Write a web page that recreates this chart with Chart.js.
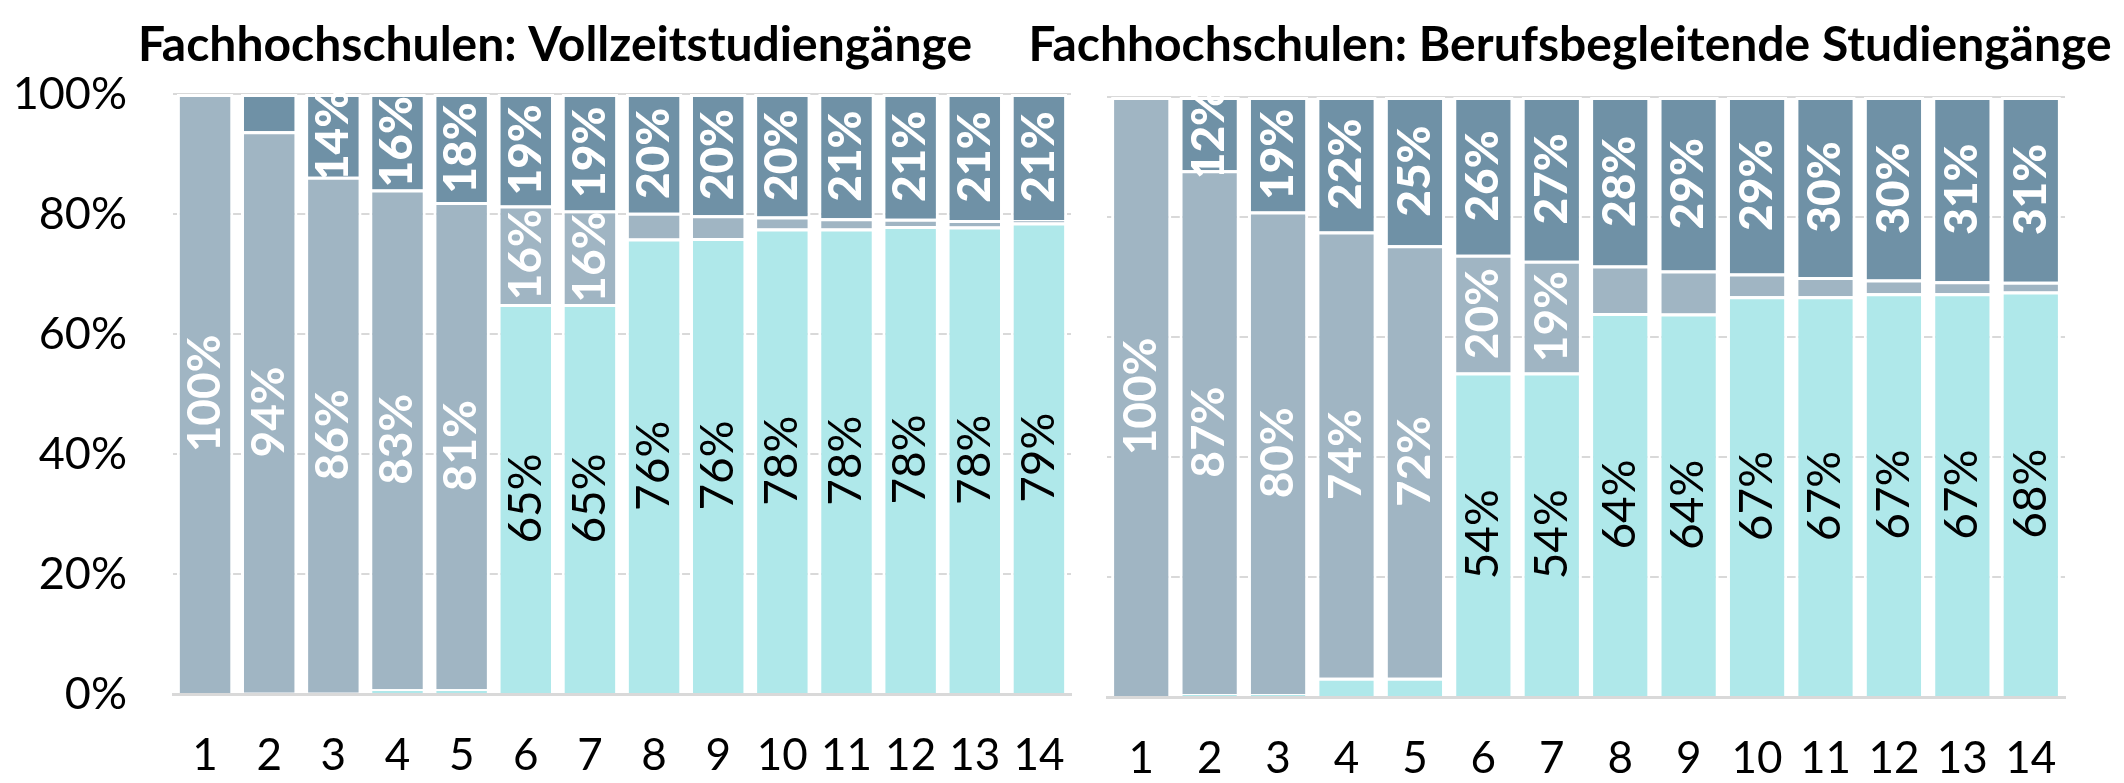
<!DOCTYPE html>
<html>
<head>
<meta charset="utf-8">
<script src="https://cdn.jsdelivr.net/npm/chart.js@4.4.1/dist/chart.umd.min.js"></script>
<style>
  html, body { margin: 0; padding: 0; background: #ffffff; width: 2124px; height: 783px; overflow: hidden; }
  #wrap { position: relative; width: 2124px; height: 783px; }
  canvas { position: absolute; top: 0; }
  #fullTime { left: 0; }
  #partTime { left: 1017px; }
</style>
</head>
<body>
<div id="wrap">
  <canvas id="fullTime" width="1110" height="783"></canvas>
  <canvas id="partTime" width="1107" height="783"></canvas>
</div>
<script>
// Semester numbers along the x axis
const semesters = ['1', '2', '3', '4', '5', '6', '7', '8', '9', '10', '11', '12', '13', '14'];

// Y axis ticks (value -> label)
const yTickValues = [0, 20, 40, 60, 80, 100];
const yTickLabels = ['0%', '20%', '40%', '60%', '80%', '100%'];

// Panel titles
const titleFullTime = 'Fachhochschulen: Vollzeitstudiengänge';
const titlePartTime = 'Fachhochschulen: Berufsbegleitende Studiengänge';

// Vollzeitstudiengänge: shares per semester (%), stacked bottom -> top
const fullTimeBottom = [0, 0.2, 0.2, 0.8, 0.8, 65.0, 65.0, 75.9, 76.0, 77.6, 77.6, 78.0, 77.9, 78.6];
const fullTimeMiddle = [100, 93.6, 86.0, 83.3, 81.2, 16.4, 15.6, 4.3, 3.8, 2.0, 1.7, 1.2, 1.1, 0.4];
const fullTimeTop    = [0, 6.2, 13.8, 15.9, 18.0, 18.6, 19.4, 19.8, 20.2, 20.4, 20.7, 20.8, 21.0, 21.0];

// Berufsbegleitende Studiengänge: shares per semester (%), stacked bottom -> top
const partTimeBottom = [0, 0.5, 0.5, 3.2, 3.2, 54.1, 54.1, 64.0, 63.9, 66.8, 66.8, 67.3, 67.3, 67.6];
const partTimeMiddle = [100, 87.3, 80.4, 74.4, 72.1, 19.6, 18.6, 7.9, 7.2, 3.8, 3.2, 2.3, 2.0, 1.6];
const partTimeTop    = [0, 12.2, 19.1, 22.4, 24.7, 26.3, 27.3, 28.1, 28.9, 29.4, 30.0, 30.4, 30.7, 30.8];

const COLOR_BOTTOM = '#afe8ea';
const COLOR_MIDDLE = '#a0b5c3';
const COLOR_TOP = '#6f91a6';
const GRID = '#d9d9d9';
const FONT = 'Lato, "Open Sans", "Noto Sans", sans-serif';

// Rotated percentage labels centred in each stacked segment
const segmentLabels = {
  id: 'segmentLabels',
  afterDatasetsDraw(chart) {
    const ctx = chart.ctx;
    chart.data.datasets.forEach((ds, i) => {
      const meta = chart.getDatasetMeta(i);
      meta.data.forEach((bar, j) => {
        const v = ds.data[j];
        if (v < 10) return;
        const cy = (bar.y + bar.base) / 2;
        ctx.save();
        ctx.translate(bar.x, cy);
        ctx.rotate(-Math.PI / 2);
        ctx.font = ds.labelWeight + ' 46px ' + FONT;
        ctx.fillStyle = ds.labelColor;
        ctx.textAlign = 'center';
        ctx.textBaseline = 'middle';
        ctx.fillText(Math.round(v) + '%', 0, 0);
        ctx.restore();
      });
    });
  }
};

// Bold panel heading drawn at a fixed centre
const panelTitle = {
  id: 'panelTitle',
  afterDraw(chart, args, opts) {
    const ctx = chart.ctx;
    ctx.save();
    ctx.font = 'bold ' + opts.size + 'px ' + FONT;
    ctx.fillStyle = '#000000';
    ctx.textAlign = 'center';
    ctx.textBaseline = 'alphabetic';
    ctx.fillText(opts.text, opts.x, opts.y);
    ctx.restore();
  }
};

function buildPanel(canvasId, title, bottom, middle, top, geo) {
  return new Chart(document.getElementById(canvasId), {
    type: 'bar',
    data: {
      labels: semesters,
      datasets: [
        { label: 'unten', data: bottom, backgroundColor: COLOR_BOTTOM, labelColor: '#000000', labelWeight: 'normal' },
        { label: 'mitte', data: middle, backgroundColor: COLOR_MIDDLE, labelColor: '#ffffff', labelWeight: 'bold' },
        { label: 'oben', data: top, backgroundColor: COLOR_TOP, labelColor: '#ffffff', labelWeight: '900' }
      ]
    },
    options: {
      responsive: false,
      animation: false,
      devicePixelRatio: 1,
      layout: { padding: { left: 0, right: geo.padRight, top: geo.top, bottom: 0 } },
      datasets: {
        bar: {
          barPercentage: 0.88,
          categoryPercentage: 1,
          borderColor: '#ffffff',
          borderWidth: { top: 3, left: 3, right: 3, bottom: 0 },
          borderSkipped: false
        }
      },
      plugins: {
        legend: { display: false },
        tooltip: { enabled: false },
        title: { display: false },
        panelTitle: { text: title, x: geo.titleX, y: 61, size: 48 }
      },
      scales: {
        x: {
          stacked: true,
          grid: { display: false },
          border: { display: true, color: GRID, width: 3, z: 1 },
          ticks: { color: '#000000', font: { family: FONT, size: 44 }, padding: 27, maxRotation: 0 },
          afterFit: s => { s.height = geo.xHeight; }
        },
        y: {
          stacked: true,
          min: 0,
          max: 100,
          afterBuildTicks: s => { s.ticks = yTickValues.map(v => ({ value: v })); },
          grid: { color: GRID, lineWidth: 2, drawTicks: false },
          border: { display: false },
          ticks: {
            display: geo.showY,
            color: '#000000',
            font: { family: FONT, size: 45 },
            padding: 46,
            callback: v => yTickLabels[yTickValues.indexOf(v)]
          },
          afterFit: s => { s.width = geo.yWidth; }
        }
      }
    },
    plugins: [segmentLabels, panelTitle]
  });
}

function drawAll() {
  buildPanel('fullTime', titleFullTime, fullTimeBottom, fullTimeMiddle, fullTimeTop,
    { top: 94, padRight: 39, yWidth: 173, xHeight: 89, showY: true, titleX: 555 });
  buildPanel('partTime', titlePartTime, partTimeBottom, partTimeMiddle, partTimeTop,
    { top: 97, padRight: 59, yWidth: 90, xHeight: 86, showY: false, titleX: 553 });
}

Promise.all([
  document.fonts.load('44px Lato'),
  document.fonts.load('bold 46px Lato'),
  document.fonts.load('900 46px Lato')
]).then(drawAll, drawAll);
</script>
</body>
</html>
